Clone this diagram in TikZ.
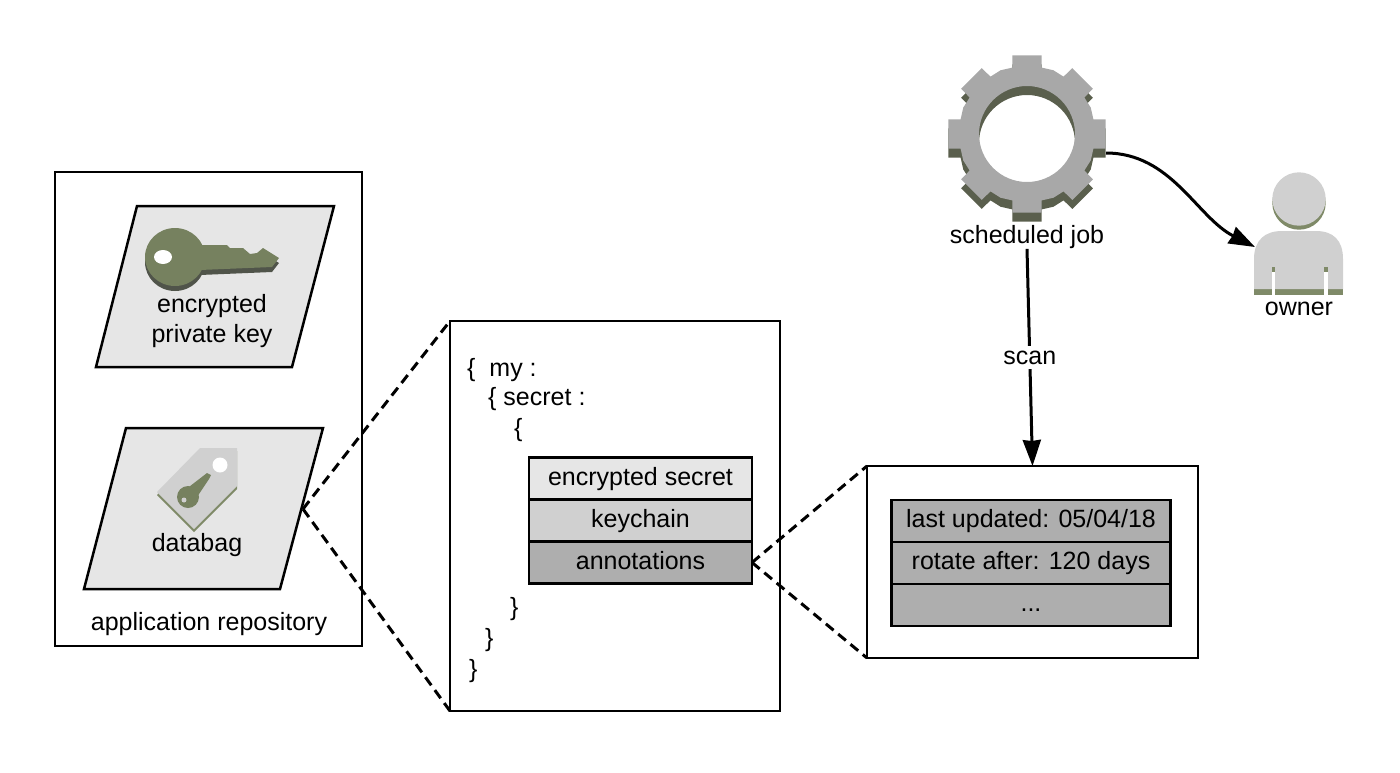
\documentclass[tikz,border=0pt]{standalone}
\usepackage{fontspec}
\setmainfont{Liberation Sans}
\usetikzlibrary{positioning, arrows.meta}

\definecolor{keygreen}{HTML}{76815F}
\definecolor{keyshade}{HTML}{50544A}
\definecolor{ownershade}{HTML}{7F8A68}
\definecolor{fieldlight}{HTML}{E6E6E6}
\definecolor{fieldmid}{HTML}{D0D0D0}
\definecolor{fielddark}{HTML}{AEAEAE}
\definecolor{gearface}{HTML}{A8A8A8}
\definecolor{gearshade}{HTML}{5A5F4D}

\newcommand{\gearoutline}{(-10.5:80) \foreach \a in {0,45,...,315} {-- ({\a-10.5}:80) -- ({\a+10.5}:80) -- ({\a+12.5}:68) -- ({\a+22.5}:69) -- ({\a+32.5}:68)} -- cycle}

\tikzset{
	label text/.style={font=\fontsize{25}{30}\selectfont, align=center, inner sep=0pt},
	panel/.style={draw, line width=2.5pt, outer sep=0pt, inner sep=0pt},
	card/.style={draw, line width=2.5pt, fill=fieldlight, line join=miter},
	field/.style={draw, line width=2.5pt, minimum width=223pt, minimum height=42pt, outer sep=0pt, inner sep=0pt, text height=18pt, text depth=5pt, font=\fontsize{25}{30}\selectfont},
	note/.style={field, minimum width=279pt, fill=fielddark},
	zoomline/.style={line width=3pt, dash pattern=on 10pt off 6pt},
	flow/.style={line width=3pt, -{Stealth[length=26pt, width=18pt, inset=1pt]}}
}

\begin{document}
\begin{tikzpicture}[x=1pt, y=-1pt]
	\useasboundingbox (0,0) rectangle (1400,772);

	%Application repository
	\node[panel, minimum width=307pt, minimum height=474pt] (repo) at (208.5,409) {};
	\node[label text] (repotext) at (209,624) {application repository};

	\coordinate (keyA) at (137,206);
	\coordinate (keyB) at (334,206);
	\coordinate (keyC) at (292,367);
	\coordinate (keyD) at (96,367);
	\draw[card] (keyA) -- (keyB) -- (keyC) -- (keyD) -- cycle;

	\coordinate (bagA) at (126,428);
	\coordinate (bagB) at (323,428);
	\coordinate (bagC) at (280,589);
	\coordinate (bagD) at (84,589);
	\coordinate (bagport) at (303,509);
	\draw[card] (bagA) -- (bagB) -- (bagC) -- (bagD) -- cycle;

	%Key
	\foreach \dy/\keycol in {5/keyshade, 0/keygreen} {
		\fill[\keycol, yshift=-\dy pt] (175,257) ellipse (30 and 29);
		\fill[\keycol, yshift=-\dy pt] (200,245) -- (227,245) -- (230,248) -- (243,248) -- (250,254) -- (257,253) -- (263,248) -- (279,258) -- (272,267) -- (200,270) -- cycle;
	}
	\fill[white] (163,257) ellipse (9 and 7);
	\node[label text] (keytext) at (212,321) {encrypted\\private key};

	%Tag
	\foreach \dy/\tagcol in {3/ownershade, 0/fieldmid} {
		\fill[\tagcol, yshift=-\dy pt] (200,448) -- (237,448) -- (237,486) -- (194,529) -- (157,492) -- cycle;
	}
	\fill[white] (220,465) circle (7.5);
	\fill[keygreen] (188,497) circle (11);
	\fill[keygreen] (185,490) -- (207,473) -- (211,475) -- (209,479) -- (195,500) -- cycle;
	\fill[fieldmid] (184,500) circle (2.5);
	\node[label text] (bagtext) at (197,545) {databag};

	%Secret
	\node[panel, minimum width=330pt, minimum height=390pt] (secretbox) at (615,516) {};
	\node[label text, anchor=west] (lineA) at (467,370) {\{\ \ my :};
	\node[label text, anchor=west] (lineB) at (488,399) {\{ secret :};
	\node[label text, anchor=west] (lineC) at (514,430) {\{};
	\node[label text, anchor=west] (lineD) at (510,609) {\}};
	\node[label text, anchor=west] (lineE) at (485,640) {\}};
	\node[label text, anchor=west] (lineF) at (469,671) {\}};

	\node[field, fill=fieldlight] (secretfield) at (640.5,478.5) {encrypted secret};
	\node[field, fill=fieldmid, below=0pt of secretfield] (keychainfield) {keychain};
	\node[field, fill=fielddark, below=0pt of keychainfield] (annofield) {annotations};

	%Annotations
	\node[panel, minimum width=331pt, minimum height=192pt] (notebox) at (1032.5,562) {};
	\node[note] (updated) at (1031,521) {last updated: 05/04/18};
	\node[note, below=0pt of updated] (rotate) {rotate after: 120 days};
	\node[note, below=0pt of rotate] (more) {...};

	%Gear
	\begin{scope}[shift={(1027,134)}]
		\fill[gearshade, even odd rule, yshift=-9pt] \gearoutline (0,0) circle (48);
		\fill[gearface, even odd rule] \gearoutline (0,0) circle (48);
	\end{scope}
	\coordinate (gearport) at (1106,153);
	\node[label text] (jobtext) at (1027,237) {scheduled job};

	%Owner
	\fill[ownershade] (1299,203) circle (26.7);
	\fill[fieldmid] (1299,199) circle (26.7);
	\fill[ownershade] (1254,283) rectangle (1343,295);
	\fill[fieldmid] (1254,289) -- (1254,259) .. controls (1254,240) and (1265,231) .. (1282,231) -- (1316,231) .. controls (1333,231) and (1343,240) .. (1343,259) -- (1343,289) -- cycle;
	\fill[ownershade] (1271.5,267) rectangle (1275,272);
	\fill[ownershade] (1324,267) rectangle (1327.5,272);
	\fill[white] (1271.5,272) rectangle (1275,295);
	\fill[white] (1324,272) rectangle (1327.5,295);
	\coordinate (ownerport) at (1255,247);
	\node[label text] (ownertext) at (1299,309) {owner};

	%Connectors
	\draw[zoomline] (bagport) -- (secretbox.north west);
	\draw[zoomline] (bagport) -- (secretbox.south west);
	\draw[zoomline] (annofield.east) -- (notebox.north west);
	\draw[zoomline] (annofield.east) -- (notebox.south west);
	\draw[flow] (gearport) to[out=0, in=153, looseness=0.95] (ownerport);
	\draw[flow] (jobtext.south) -- node[label text, fill=white, inner ysep=5pt, inner xsep=3pt] (scantext) {scan} (notebox.north);
\end{tikzpicture}
\end{document}
